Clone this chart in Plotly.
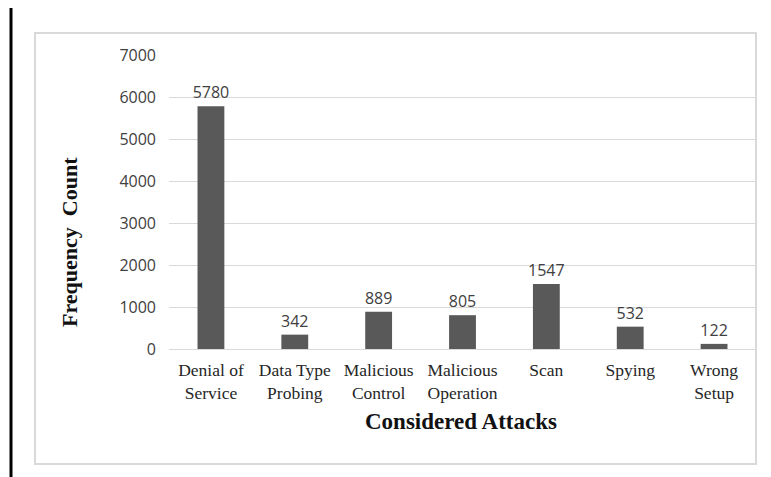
import plotly.graph_objects as go

categories = ["Denial of<br>Service", "Data Type<br>Probing", "Malicious<br>Control",
              "Malicious<br>Operation", "Scan", "Spying", "Wrong<br>Setup"]
counts = [5780, 342, 889, 805, 1547, 532, 122]
y_ticks = [0, 1000, 2000, 3000, 4000, 5000, 6000, 7000]

OFF = 8  # page offset of the figure inside the window
W, H = 771 - OFF, 477 - OFF
L, R, T, B = 169 - OFF, 15, 55 - OFF, 128
pw, ph = W - L - R, H - T - B

def px_x(px):
    return (px - OFF - L) / pw

def px_y(py):
    return (H - B - (py - OFF)) / ph

fig = go.Figure(go.Bar(
    x=categories, y=counts,
    marker=dict(color="#595959", line=dict(width=0)),
    text=[str(v) for v in counts], textposition="outside",
    constraintext="none",
    textfont=dict(family="Open Sans, Liberation Sans", size=16, color="#404040"),
    cliponaxis=False,
))

fig.update_layout(
    width=W, height=H,
    margin=dict(l=L, r=R, t=T, b=B),
    paper_bgcolor="white", plot_bgcolor="white",
    bargap=0.68, showlegend=False,
    xaxis=dict(showgrid=False, showline=True, linecolor="#d9d9d9", linewidth=1,
               ticks="", tickfont=dict(family="Liberation Serif", size=17.5, color="#262626"),
               ticklabelstandoff=5),
    yaxis=dict(range=[0, 7000], tickvals=y_ticks, showgrid=True, gridcolor="#d9d9d9",
               gridwidth=1, zeroline=False, showline=False, ticks="",
               tickfont=dict(family="Open Sans, Liberation Sans", size=16, color="#404040"),
               ticklabelstandoff=12),
    annotations=[
        dict(text="<b>Frequency  Count</b>", xref="paper", yref="paper",
             x=px_x(70), y=px_y(242), textangle=-90, showarrow=False,
             font=dict(family="Liberation Serif", size=22, color="#111111"),
             xanchor="center", yanchor="middle"),
        dict(text="<b>Considered Attacks</b>", xref="paper", yref="paper",
             x=px_x(461), y=px_y(421), showarrow=False,
             font=dict(family="Liberation Serif", size=23, color="#111111"),
             xanchor="center", yanchor="middle"),
    ],
    shapes=[
        dict(type="rect", xref="paper", yref="paper",
             x0=px_x(35), x1=px_x(756), y0=px_y(464), y1=px_y(33),
             line=dict(color="#d9d9d9", width=2), layer="below"),
        dict(type="line", xref="paper", yref="paper",
             x0=px_x(11), x1=px_x(11), y0=px_y(477), y1=px_y(7),
             line=dict(color="black", width=3)),
    ],
)

fig.write_html("out.html")
